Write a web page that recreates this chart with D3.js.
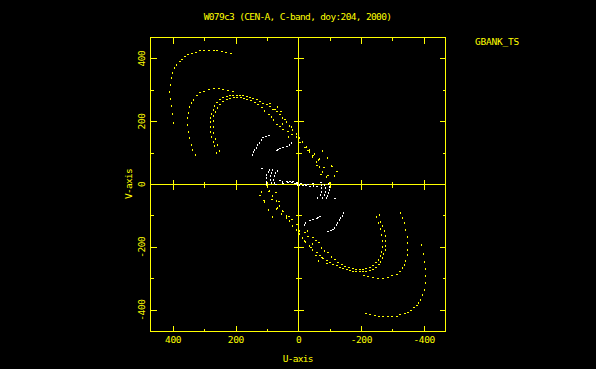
<!DOCTYPE html>
<html><head><meta charset="utf-8">
<script src="https://cdn.jsdelivr.net/npm/d3@7"></script>
<style>html,body{margin:0;padding:0;background:#000;overflow:hidden}</style>
</head><body>
<svg id="c" width="596" height="369"></svg>
<script>
// ---- text ----
const titleText = "W079c3 (CEN-A, C-band, doy:204, 2000)";
const stokesLabel = "GBANK_TS";
const xTitle = "U-axis";
const yTitle = "V-axis";
const majorTicks = [400, 200, 0, -200, -400];
const minorTicks = [300, 100, -100, -300];

// ---- measured (u,v) samples, one half of the plane; conjugates are plotted too ----
const outerTrack = [[395,195],[400,222],[404,247],[407,271],[408,294],[406,316],[403,337],[398,353],[392,369],[385,379],[378,387],[370,395],[360,404],[350,410],[339,414],[325,418],[313,422],[299,424],[285,424],[270,424],[258,422],[244,420],[230,417],[215,413]];
const middleTrack = [[326,93],[334,109],[339,125],[344,146],[348,167],[350,189],[350,210],[348,226],[344,244],[339,258],[332,268],[323,279],[313,289],[300,294],[286,300],[270,302],[254,302],[239,300],[223,297],[208,292]];
const innerTrackA = [[259,99],[265,120],[270,135],[276,150],[279,166],[279,182],[279,198],[278,211],[274,224],[270,235],[265,247],[258,259],[249,266],[239,273],[228,277],[217,279],[207,281],[196,281],[185,281],[175,280],[164,278],[154,274],[143,271],[132,266],[122,262],[111,256],[100,251],[90,244],[80,237],[69,229],[58,220],[48,210],[37,198],[26,185],[16,173],[5,160],[-5,147],[-16,133],[-27,119],[-37,103],[-48,87],[-59,71],[-69,55],[-80,39],[-90,23]];
const innerTrackB = [[251,104],[257,125],[263,144],[268,163],[270,182],[270,201],[268,217],[263,230],[257,243],[249,252],[239,260],[228,266],[217,271],[206,273],[195,273],[184,273],[173,271],[162,267],[150,263],[139,259],[128,251],[116,242],[106,233],[95,220],[85,212],[77,203],[67,189],[57,181],[48,173],[32,167],[21,157],[5,148],[-5,130],[-21,114],[-37,107],[-48,88],[-69,80],[-80,104],[-95,83],[-106,56],[-117,24],[-101,3]];
const innerScatter = [[-31,106],[-53,96],[-66,77],[-60,58],[-83,51],[-108,54],[-72,30],[-93,24],[-123,39],[42,204],[74,236],[55,230],[90,255],[65,246],[48,190],[30,150],[21,182]];
const whiteTrack1 = [[145,93],[141,101],[137,109],[132,115],[127,123],[122,130],[116,139],[111,146],[103,149],[95,152]];
const whiteTrack2 = [[69,104],[64,108],[58,111],[48,115],[37,119],[26,123],[21,129]];
const whiteShort = [[116,48],[90,45],[95,37],[99,30],[100,19],[100,8],[99,0],[80,45],[85,35],[88,24],[88,14],[85,3],[64,43],[71,35],[74,24],[76,14],[74,3],[71,-3],[58,9],[50,7],[48,0],[37,8],[32,3],[26,7],[21,3],[16,5],[10,1],[5,4],[0,-2]];

const yellowSets = [outerTrack, middleTrack, innerTrackA, innerTrackB, innerScatter];
const whiteSets = [whiteTrack1, whiteTrack2, whiteShort];

const YEL = "#ffff00", WHT = "#ffffff";
const svg = d3.select("#c");
svg.append("rect").attr("width",596).attr("height",369).attr("fill","#000");

const x = d3.scaleLinear().domain([471,-469]).range([150.5,445.5]);
const y = d3.scaleLinear().domain([466,-469]).range([37.5,331.5]);
const px = v => Math.round(x(v)) + 0.5;
const py = v => Math.round(y(v)) + 0.5;

const g = svg.append("g").attr("shape-rendering","crispEdges");
const L = (x1,y1,x2,y2) => g.append("line").attr("x1",x1).attr("y1",y1).attr("x2",x2).attr("y2",y2).attr("stroke",YEL).attr("stroke-width",1);

// frame
const X0 = x.range()[0], X1 = x.range()[1], Y0 = y.range()[0], Y1 = y.range()[1];
g.append("rect").attr("x",X0).attr("y",Y0).attr("width",X1-X0).attr("height",Y1-Y0)
  .attr("fill","none").attr("stroke",YEL).attr("stroke-width",1);
// zero axes
L(px(0),Y0,px(0),Y1);
L(X0,py(0),X1,py(0));

// ticks
majorTicks.forEach(t => {
  if (t !== 0) {
    L(px(t),Y0,px(t),Y0+6); L(px(t),Y1,px(t),Y1-6);
    L(X0,py(t),X0+6,py(t)); L(X1,py(t),X1-6,py(t));
    L(px(t),py(0)-5,px(t),py(0)+5);
    L(px(0)-5,py(t),px(0)+5,py(t));
  }
});
minorTicks.forEach(t => {
  L(px(t),Y0,px(t),Y0+3); L(px(t),Y1,px(t),Y1-3);
  L(X0,py(t),X0+3,py(t)); L(X1,py(t),X1-3,py(t));
  L(px(t),py(0)-3,px(t),py(0)+3);
  L(px(0)-3,py(t),px(0)+3,py(t));
});

// points
function drawSet(pts, color) {
  const all = pts.concat(pts.map(([u,v]) => [-u,-v]));
  const n = pts.length;
  const horiz = i => {
    const k = i % n, j = k < n-1 ? k+1 : k-1;
    const a = pts[k], b = pts[j];
    return Math.abs(a[0]-b[0]) >= Math.abs(a[1]-b[1]);
  };
  g.selectAll(null).data(all).enter().append("rect")
    .attr("x", d => Math.round(x(d[0])) - 1)
    .attr("y", d => Math.round(y(d[1])) - 1)
    .attr("width", (d,i) => horiz(i) ? 2 : 1)
    .attr("height", (d,i) => horiz(i) ? 1 : 2)
    .attr("fill", color);
}
yellowSets.forEach(s => drawSet(s, YEL));
whiteSets.forEach(s => drawSet(s, WHT));

// text
const font = "'DejaVu Sans Mono', monospace";
const T = (tx,ty,s,size,ls,rot) => {
  const t = svg.append("text").attr("fill",YEL).attr("font-family",font).attr("font-size",size)
    .attr("letter-spacing",ls).attr("text-anchor","middle").text(s);
  if (rot) t.attr("transform",`translate(${tx},${ty}) rotate(-90)`);
  else t.attr("x",tx).attr("y",ty);
  return t;
};
T(297.5, 20, titleText, 9.5, -0.65);
T(497, 45, stokesLabel, 9.5, -0.2);
majorTicks.forEach(t => T(x(t)+0.3, 343, String(t), 9.5, -0.4));
majorTicks.forEach(t => T(145, y(t)+0.3, String(t), 9.5, -0.4, true));
T(297.7, 362, xTitle, 9.5, -0.7);
T(132, 184, yTitle, 9.5, -0.7, true);
</script>
</body></html>
